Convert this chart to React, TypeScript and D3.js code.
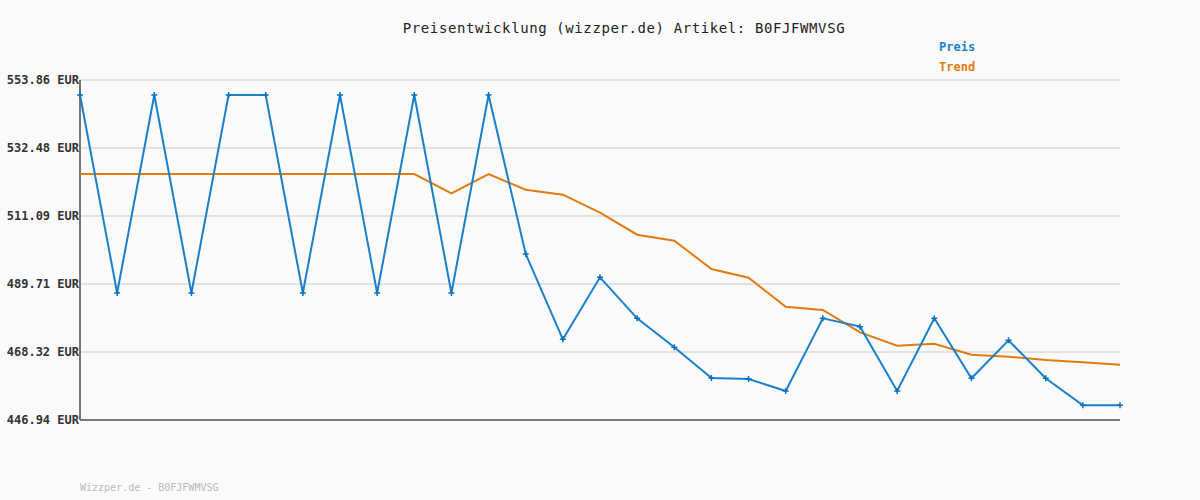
import React, { useEffect } from "react";
import * as d3 from "d3";

const yTicks = [446.94, 468.32, 489.71, 511.09, 532.48, 553.86];
const preis = [549.14, 486.88, 549.14, 486.88, 549.14, 549.14, 486.88, 549.14, 486.88, 549.14, 486.88, 549.14, 499.14, 472.32, 491.81, 478.92, 469.8, 460.15, 459.84, 456.06, 478.92, 476.3, 456.06, 478.92, 460.05, 472.0, 460.05, 451.56, 451.56];
const trend = [524.3, 524.3, 524.3, 524.3, 524.3, 524.3, 524.3, 524.3, 524.3, 524.3, 518.23, 524.3, 519.36, 517.79, 512.13, 505.21, 503.33, 494.42, 491.7, 482.58, 481.54, 474.5, 470.3, 470.94, 467.48, 466.85, 465.81, 465.08, 464.35];

const W = 1200, H = 500;
const L = 80, R = 1120, T = 80, B = 420;
const BLUE = "#1a80cc";
const ORANGE = "#e07b10";
const FONT = "'DejaVu Sans Mono', 'Liberation Mono', monospace";

export default function App() {
  useEffect(() => {
    document.body.style.margin = "0";
  }, []);
  const x = d3.scaleLinear().domain([0, preis.length - 1]).range([L, R]);
  const y = d3.scaleLinear().domain([446.94, 553.86]).range([B, T]);
  const line = d3.line<number>().x((_, i) => x(i)).y((d) => y(d));
  return (
    <svg width={W} height={H} style={{ display: "block", background: "#fafafa" }}>
      <rect x={0} y={0} width={W} height={H} fill="#fafafa" />
      {yTicks.map((t) => (
        <g key={t}>
          <line x1={L} x2={R} y1={y(t)} y2={y(t)} stroke="#e2e2e2" strokeWidth={2} />
          <text x={L - 1} y={y(t) + 4} textAnchor="end" fontFamily={FONT} fontWeight="bold" fontSize={12} fill="#333">
            {t.toFixed(2)} EUR
          </text>
        </g>
      ))}
      <line x1={L} x2={L} y1={T} y2={B} stroke="#777" strokeWidth={2} />
      <line x1={L} x2={R} y1={B} y2={B} stroke="#777" strokeWidth={2} />
      <path d={line(trend) || ""} fill="none" stroke={ORANGE} strokeWidth={2} />
      <path d={line(preis) || ""} fill="none" stroke={BLUE} strokeWidth={2} />
      {preis.map((v, i) => (
        <path key={i} d={`M${x(i) - 3},${y(v)}H${x(i) + 3}M${x(i)},${y(v) - 3}V${y(v) + 3}`} stroke="#0a70c0" strokeWidth={1.5} />
      ))}
      <text x={624} y={33} textAnchor="middle" fontFamily={FONT} fontSize={14} letterSpacing={0.6} fill="#222">
        Preisentwicklung (wizzper.de) Artikel: B0FJFWMVSG
      </text>
      <text x={939} y={51} fontFamily={FONT} fontWeight="bold" fontSize={12} fill="#1a80cc">Preis</text>
      <text x={939} y={71} fontFamily={FONT} fontWeight="bold" fontSize={12} fill={ORANGE}>Trend</text>
      <text x={80} y={491} fontFamily={FONT} fontSize={10} fill="#bbb">Wizzper.de - B0FJFWMVSG</text>
    </svg>
  );
}
